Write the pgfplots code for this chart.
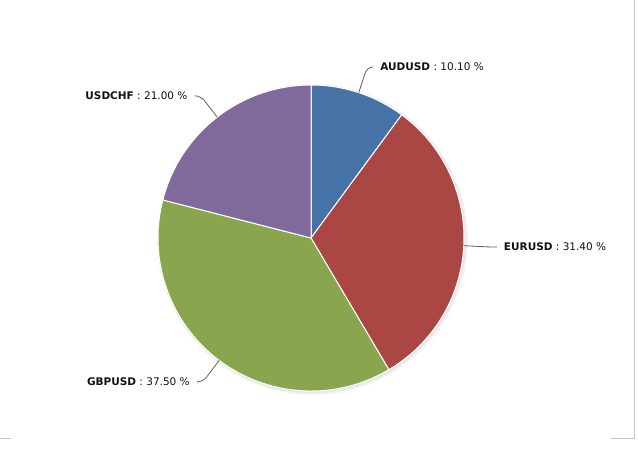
\documentclass[border=0pt]{standalone}
\usepackage{pgfplots}
\pgfplotsset{compat=1.18}
\usepackage{pgfplotstable}
\usepackage{fontspec}
\setmainfont{DejaVu Sans}
\definecolor{col0}{HTML}{4572A7}
\definecolor{col1}{HTML}{AA4643}
\definecolor{col2}{HTML}{89A54E}
\definecolor{col3}{HTML}{80699B}
\definecolor{frame}{HTML}{C8C8C8}
\definecolor{conn}{HTML}{606060}
\definecolor{txt}{HTML}{111111}

\pgfplotstableread{
name value
AUDUSD 10.10
EURUSD 31.40
GBPUSD 37.50
USDCHF 21.00
}\piedata

\begin{document}
\begin{tikzpicture}
\useasboundingbox (0,0) rectangle (638pt,472pt);
\begin{axis}[
  at={(0,0)}, anchor=south west,
  width=638pt, height=472pt, scale only axis,
  xmin=0, xmax=638, ymin=0, ymax=472,
  hide axis, clip=false,
]
% frame lines
\draw[frame, line width=1pt] (axis cs:634.3,472) -- (axis cs:634.3,33.7) -- (axis cs:611,33.7);
\draw[frame, line width=1pt] (axis cs:0,33.7) -- (axis cs:11,33.7);
% shadow
\fill[black, opacity=0.04] (axis cs:312.5,232.5) circle[radius=155.5pt];
\fill[black, opacity=0.06] (axis cs:312,233) circle[radius=154.2pt];
\pgfplotstablegetrowsof{\piedata}
\pgfmathtruncatemacro\N{\pgfplotsretval-1}
\def\cum{0}
\pgfplotsforeachungrouped \i in {0,...,\N}{
  \pgfplotstablegetelem{\i}{value}\of\piedata \let\v\pgfplotsretval
  \pgfplotstablegetelem{\i}{name}\of\piedata \let\nm\pgfplotsretval
  \pgfmathsetmacro\a{90-3.6*\cum}
  \pgfmathsetmacro\b{90-3.6*(\cum+\v)}
  \pgfmathsetmacro\m{(\a+\b)/2}
  \pgfmathsetmacro\ex{311+153*cos(\m)}
  \pgfmathsetmacro\ey{234+153*sin(\m)}
  \pgfmathsetmacro\bx{311+180*cos(\m)}
  \pgfmathsetmacro\by{234+180*sin(\m)}
  \pgfmathsetmacro\sg{cos(\m)>0 ? 1 : -1}
  \pgfmathsetmacro\hx{\bx+5*\sg}
  \pgfmathsetmacro\tx{\bx+13*\sg}
  \pgfmathtruncatemacro\right{cos(\m)>0 ? 1 : 0}
  \ifnum\right=1 \def\anc{west}\else\def\anc{east}\fi
  \edef\temp{%
    \noexpand\fill[col\i, draw=white, line width=1pt, line join=round]
      (axis cs:311,234) -- ++(\a:153pt) arc[start angle=\a, end angle=\b, radius=153pt] -- cycle;
    \noexpand\draw[conn, line width=0.8pt, rounded corners=6pt]
      (axis cs:\ex,\ey) -- (axis cs:\bx,\by) -- (axis cs:\hx,\by);
    \noexpand\node[anchor=\anc, inner sep=0pt, font=\noexpand\fontsize{10.5}{12}\noexpand\selectfont, text=txt]
      at (axis cs:\tx,\by) {\noexpand\textbf{\nm} : \noexpand\pgfmathprintnumber[fixed, fixed zerofill, precision=2, assume math mode=true]{\v} \noexpand\%};
  }
  \temp
  \pgfmathsetmacro\cum{\cum+\v}
  \global\let\cum\cum
}
\end{axis}
\end{tikzpicture}
\end{document}
